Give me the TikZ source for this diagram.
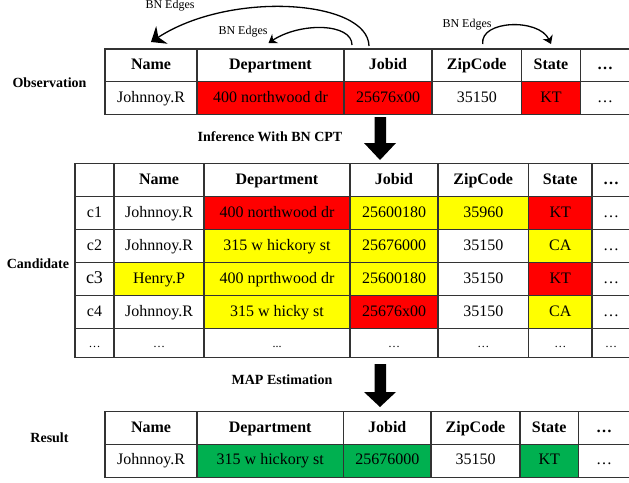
\documentclass[tikz,border=0pt]{standalone}
\usepackage{fontspec}
\setmainfont{Liberation Serif}
\usetikzlibrary{arrows.meta, calc}
\definecolor{cellred}{HTML}{FF0000}
\definecolor{cellyellow}{HTML}{FFFF00}
\definecolor{cellgreen}{HTML}{00B050}
\definecolor{gridgray}{HTML}{333333}
\newcommand{\tightdots}{...}

\tikzset{
  cell/.style={draw=gridgray, line width=1.3pt, anchor=north west, outer sep=0pt,
    inner sep=0pt, minimum height=32.75, text height=11.5pt, text depth=3.5pt,
    font=\fontsize{16}{18}\selectfont},
  headcell/.style={cell, font=\bfseries\fontsize{16}{18}\selectfont},
  steplabel/.style={font=\bfseries\fontsize{14}{16}\selectfont},
  edgelabel/.style={font=\fontsize{12}{14}\selectfont},
  bnedge/.style={line width=1.3pt, -{Stealth[length=8pt,width=11pt]}}
}

\begin{document}
\begin{tikzpicture}[x=1pt, y=-1pt]

\useasboundingbox (0,0) rectangle (629,482);

% --- Observation (top table) ---
\foreach \n/\x/\w/\t in {name/105/92/Name, dept/197/147/Department, jobid/344/88/Jobid,
                         zip/432/89.5/ZipCode, state/521.5/59/State, more/580.5/49/…}
  \node[headcell, minimum width=\w] (obs-h-\n) at (\x,49) {\t};
\foreach \n/\x/\w/\c/\t in {name/105/92/white/Johnnoy.R, dept/197/147/cellred/400 northwood dr,
                            jobid/344/88/cellred/25676x00, zip/432/89.5/white/35150,
                            state/521.5/59/cellred/KT, more/580.5/49/white/…}
  \node[cell, minimum width=\w, fill=\c] (obs-\n) at (\x,81.75) {\t};
\node[steplabel] (observation) at (49.5,83) {Observation};

% --- BN edges between attributes ---
\draw[bnedge, -{Stealth[length=13pt,width=21pt]}]
  ([xshift=-19pt,yshift=3pt]obs-h-jobid.north)
  .. controls +(-1,-46) and +(80,-52) .. ([yshift=7pt]obs-h-name.north);
\draw[bnedge]
  ([xshift=-36pt,yshift=4pt]obs-h-jobid.north)
  .. controls +(0,-22) and +(32,-21) .. ([xshift=-2pt,yshift=6pt]obs-h-dept.north);
\draw[bnedge]
  ([xshift=6pt,yshift=5pt]obs-h-zip.north)
  .. controls +(-3,-24) and +(-12,-26) .. ([yshift=5pt]obs-h-state.north);
\node[edgelabel] (edge-a) at (170,6) {BN Edges};
\node[edgelabel] (edge-b) at (243,31.5) {BN Edges};
\node[edgelabel] (edge-c) at (467,25) {BN Edges};

% --- Inference step ---
\fill (374.5,117) -- (386,117) -- (386,143) -- (396,143) -- (380,160)
  -- (364,143) -- (374.5,143) -- cycle;
\node[steplabel] (inference) at (270,137) {Inference With BN CPT};

% --- Candidate (middle table) ---
\foreach \n/\x/\w/\t in {id/75/39/{}, name/114/90/Name, dept/204/146/Department, jobid/350/88/Jobid,
                         zip/438/90.5/ZipCode, state/528.5/63.5/State, more/592/38/…}
  \node[headcell, minimum height=33, minimum width=\w] (cand-h-\n) at (\x,163.5) {\t};
\foreach \n/\x/\w/\c/\t in {id/75/39/white/c1, name/114/90/white/Johnnoy.R,
                            dept/204/146/cellred/400 northwood dr, jobid/350/88/cellyellow/25600180,
                            zip/438/90.5/cellyellow/35960, state/528.5/63.5/cellred/KT, more/592/38/white/…}
  \node[cell, minimum height=33, minimum width=\w, fill=\c] (c1-\n) at (\x,196.5) {\t};
\foreach \n/\x/\w/\c/\t in {id/75/39/white/c2, name/114/90/white/Johnnoy.R,
                            dept/204/146/cellyellow/315 w hickory st, jobid/350/88/cellyellow/25676000,
                            zip/438/90.5/white/35150, state/528.5/63.5/cellyellow/CA, more/592/38/white/…}
  \node[cell, minimum height=33, minimum width=\w, fill=\c] (c2-\n) at (\x,229.5) {\t};
\foreach \n/\x/\w/\c/\t in {name/114/90/cellyellow/Henry.P,
                            dept/204/146/cellyellow/400 nprthwood dr, jobid/350/88/cellyellow/25600180,
                            zip/438/90.5/white/35150, state/528.5/63.5/cellred/KT, more/592/38/white/…}
  \node[cell, minimum height=33, minimum width=\w, fill=\c] (c3-\n) at (\x,262.5) {\t};
\node[cell, minimum height=33, minimum width=39, font=\fontsize{18}{20}\selectfont] (c3-id) at (75,262.5) {c3};
\foreach \n/\x/\w/\c/\t in {id/75/39/white/c4, name/114/90/white/Johnnoy.R,
                            dept/204/146/cellyellow/315 w hicky st, jobid/350/88/cellred/25676x00,
                            zip/438/90.5/white/35150, state/528.5/63.5/cellyellow/CA, more/592/38/white/…}
  \node[cell, minimum height=33, minimum width=\w, fill=\c] (c4-\n) at (\x,295.5) {\t};
\foreach \n/\x/\w/\t in {id/75/39/…, name/114/90/…, dept/204/146/\tightdots, jobid/350/88/…,
                         zip/438/90.5/…, state/528.5/63.5/…, more/592/38/…}
  \node[cell, minimum height=29, minimum width=\w, font=\fontsize{12}{14}\selectfont] (cx-\n) at (\x,328.5) {\t};
\node[steplabel] (candidate) at (38,264) {Candidate};

% --- MAP step ---
\fill (374.5,364) -- (386,364) -- (386,392) -- (396,392) -- (380,407)
  -- (364,392) -- (374.5,392) -- cycle;
\node[steplabel] (map) at (282,380) {MAP Estimation};

% --- Result (bottom table) ---
\foreach \n/\x/\w/\t in {name/105/92/Name, dept/197/146.5/Department, jobid/343.5/87.5/Jobid,
                         zip/431/89/ZipCode, state/520/58.5/State, more/578.5/51/…}
  \node[headcell, minimum width=\w] (res-h-\n) at (\x,411.75) {\t};
\foreach \n/\x/\w/\c/\t in {name/105/92/white/Johnnoy.R, dept/197/146.5/cellgreen/315 w hickory st,
                            jobid/343.5/87.5/cellgreen/25676000, zip/431/89/white/35150,
                            state/520/58.5/cellgreen/KT, more/578.5/51/white/…}
  \node[cell, minimum width=\w, fill=\c] (res-\n) at (\x,444.5) {\t};
\node[steplabel] (result) at (49.5,438) {Result};

\end{tikzpicture}
\end{document}
